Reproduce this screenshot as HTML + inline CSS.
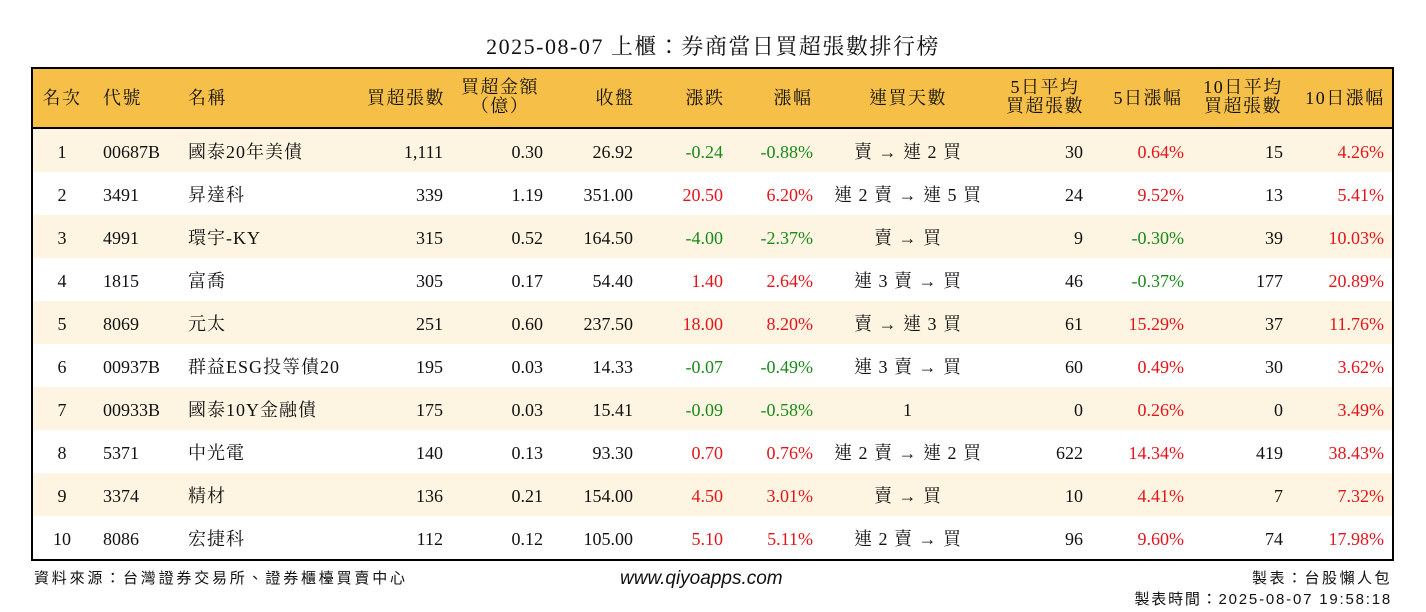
<!DOCTYPE html>
<html><head><meta charset="utf-8">
<style>
body{margin:0;width:1426px;height:612px;background:#fff;position:relative;overflow:hidden;font-family:"Liberation Serif","Noto Serif CJK TC","Noto Serif CJK SC",serif;color:#111}
.t{position:absolute;white-space:nowrap;font-size:18px;line-height:20px}
.hd{letter-spacing:1.5px}
.st{letter-spacing:1px}
#title{position:absolute;left:0;width:1426px;top:30px;text-align:center;font-size:22px;letter-spacing:1.5px}
#box{position:absolute;left:31px;top:67px;width:1359px;height:490px;border:2px solid #000;overflow:hidden}
#hdr{position:absolute;left:0;top:0;width:1359px;height:58px;background:#f6bf48;border-bottom:2px solid #000}
.row{position:absolute;left:0;width:1359px;height:43px}
.r{color:#e5141b}.g{color:#1b8a1b}
.ft{position:absolute;font-family:"Liberation Sans","Noto Sans CJK TC",sans-serif;font-size:15px;white-space:nowrap}
</style></head><body>
<div id="title">2025-08-07 上櫃：券商當日買超張數排行榜</div>
<div id="box">
<div id="hdr"></div>
</div>
<div class="ft" style="left:34px;top:567px;letter-spacing:2.8px">資料來源：台灣證券交易所、證券櫃檯買賣中心</div>
<div class="ft" style="left:620px;top:568px;font-style:italic;font-size:19px">www.qiyoapps.com</div>
<div class="ft" style="right:34px;top:567px;letter-spacing:2.5px">製表：台股懶人包</div>
<div class="ft" style="right:34px;top:588px;letter-spacing:1.8px">製表時間：2025-08-07 19:58:18</div>
<script>
const ranks=["1","2","3","4","5","6","7","8","9","10"];
const codes=["00687B","3491","4991","1815","8069","00937B","00933B","5371","3374","8086"];
const names=["國泰20年美債","昇達科","環宇-KY","富喬","元太","群益ESG投等債20","國泰10Y金融債","中光電","精材","宏捷科"];
const netBuy=["1,111","339","315","305","251","195","175","140","136","112"];
const amount=["0.30","1.19","0.52","0.17","0.60","0.03","0.03","0.13","0.21","0.12"];
const closeP=["26.92","351.00","164.50","54.40","237.50","14.33","15.41","93.30","154.00","105.00"];
const change=["-0.24","20.50","-4.00","1.40","18.00","-0.07","-0.09","0.70","4.50","5.10"];
const pct=["-0.88%","6.20%","-2.37%","2.64%","8.20%","-0.49%","-0.58%","0.76%","3.01%","5.11%"];
const streak=["賣 → 連 2 買","連 2 賣 → 連 5 買","賣 → 買","連 3 賣 → 買","賣 → 連 3 買","連 3 賣 → 買","1","連 2 賣 → 連 2 買","賣 → 買","連 2 賣 → 買"];
const avg5=["30","24","9","46","61","60","0","622","10","96"];
const pct5=["0.64%","9.52%","-0.30%","-0.37%","15.29%","0.49%","0.26%","14.34%","4.41%","9.60%"];
const avg10=["15","13","39","177","37","30","0","419","7","74"];
const pct10=["4.26%","5.41%","10.03%","20.89%","11.76%","3.62%","3.49%","38.43%","7.32%","17.98%"];
const headers=[["名次",62,"c"],["代號",103,"l"],["名稱",188,"l"],["買超張數",445,"r"],["買超金額<br>（億）",500,"c"],["收盤",615,"c"],["漲跌",705,"c"],["漲幅",793,"c"],["連買天數",908,"c"],["5日平均<br>買超張數",1045,"c"],["5日漲幅",1148,"c"],["10日平均<br>買超張數",1243,"c"],["10日漲幅",1345,"c"]];
function put(txt,x,y,al,cls,name,lh){
 const d=document.createElement('div');
 d.className='t '+(cls||'');
 
 
 d.innerHTML=txt;
 if(lh){d.style.lineHeight=lh+'px';d.style.textAlign='center';}
 if(al==='l'){d.style.left=x+'px';}
 else if(al==='r'){d.style.right=(1426-x)+'px';}
 else {d.style.left=(x-150)+'px';d.style.width='300px';d.style.textAlign='center';}
 d.style.top=y+'px';
 document.body.appendChild(d);
 return d;
}
headers.forEach(h=>{
 const two=h[0].includes('<br>');
 put(h[0],h[1],two?78:88,h[2],'hd','header-'+h[0].replace(/<br>.*/,''),two?19:20);
});
const box=document.getElementById('box');
const sg=v=>v.startsWith('-')?'g':'r';
for(let i=0;i<ranks.length;i++){
 const r=document.createElement('div');
 r.className='row';
 
 
 r.style.top=(60+i*43)+'px';
 r.style.background=i%2===0?'#fdf5e1':'#fff';
 box.appendChild(r);
 const y=142+i*43;
 put(ranks[i],62,y,'c','','rank');
 put(codes[i],103,y,'l','','code');
 put(names[i],188,y,'l','st','name');
 put(netBuy[i],443,y,'r','','net-buy');
 put(amount[i],543,y,'r','','amount');
 put(closeP[i],633,y,'r','','close');
 put(change[i],723,y,'r',sg(change[i]),'change');
 put(pct[i],813,y,'r',sg(pct[i]),'change-pct');
 put(streak[i],908,y,'c','st','streak');
 put(avg5[i],1083,y,'r','','avg5');
 put(pct5[i],1184,y,'r',sg(pct5[i]),'pct5');
 put(avg10[i],1283,y,'r','','avg10');
 put(pct10[i],1384,y,'r',sg(pct10[i]),'pct10');
}
</script>
</body></html>
